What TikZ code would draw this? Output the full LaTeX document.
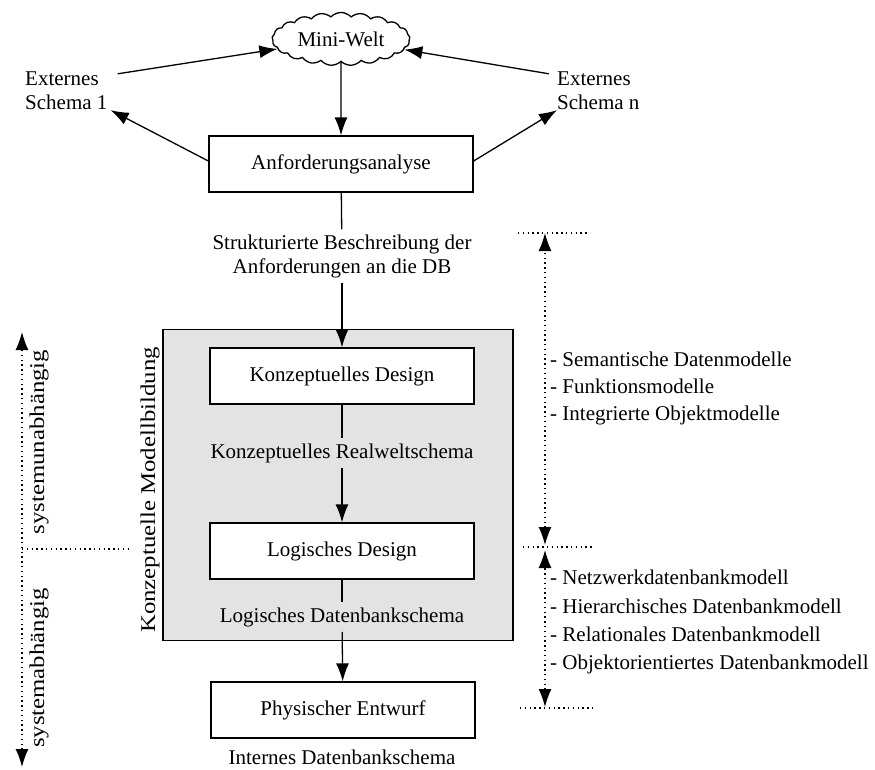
\documentclass[tikz,border=0pt]{standalone}
\usepackage{fontspec}
\setmainfont{Liberation Serif}
\usetikzlibrary{arrows.meta,shapes.symbols}

\tikzset{
  txt/.style={font=\fontsize{21}{24}\selectfont, inner sep=0pt},
  lbl/.style={txt, inner sep=5pt, align=center},
  stepbox/.style={draw, line width=1.3pt, fill=white, minimum width=264pt,
                  minimum height=56pt, font=\fontsize{21}{24}\selectfont},
  conn/.style={line width=1.3pt},
  tip/.tip={Latex[length=18pt,width=13pt]},
  arr/.style={conn, -tip},
  dots/.style={line width=1.4pt, dash pattern=on 1.4pt off 3.4pt},
  dotarr/.style={dots, tip-tip},
  vlbl/.style={txt, rotate=90}
}
\newcommand{\wide}[1]{\scalebox{1.18}[1]{#1}}

\begin{document}
\begin{tikzpicture}[x=1pt, y=-1pt]
\useasboundingbox (0,0) rectangle (875,769);

% grey frame of the conceptual modelling phase
\node[draw, line width=1.3pt, fill=black!11, minimum width=350pt, minimum height=311pt]
  (grp) at (338,485) {};

% top: mini world and external schemas
\node[cloud, draw, line width=1.3pt, fill=white, cloud puffs=21, cloud puff arc=95,
      aspect=2.7, minimum width=138pt, minimum height=52pt, inner sep=0pt, txt]
  (welt) at (341,39) {Mini-Welt};
\node[txt, align=left, anchor=west] (ext1) at (25,91) {Externes\\Schema 1};
\node[txt, align=left, anchor=west] (extn) at (557,91) {Externes\\Schema n};

% design steps
\node[stepbox] (anf) at (341,164) {Anforderungsanalyse};
\node[lbl] (req) at (342,256) {Strukturierte Beschreibung der\\Anforderungen an die DB};
\node[stepbox] (kd) at (342,376) {Konzeptuelles Design};
\node[lbl] (rws) at (342,453) {Konzeptuelles Realweltschema};
\node[stepbox] (ld) at (342,551) {Logisches Design};
\node[lbl] (lds) at (342,617) {Logisches Datenbankschema};
\node[stepbox] (pe) at (343,710) {Physischer Entwurf};
\node[lbl] (ids) at (342,757) {Internes Datenbankschema};

% connectors
\draw[arr] ([xshift=10pt,yshift=-2pt]ext1.north east) -- (welt);
\draw[arr] ([xshift=-8pt,yshift=-2pt]extn.north west) -- (welt);
\draw[arr] (welt) -- (anf);
\draw[arr] ([yshift=3pt]anf.west) -- ([xshift=3pt]ext1.south east);
\draw[arr] ([yshift=3pt]anf.east) -- ([xshift=0pt]extn.south west);
\draw[conn] (anf) -- (req);
\draw[arr] (req) -- (kd);
\draw[conn] (kd) -- (rws);
\draw[arr] (rws) -- (ld);
\draw[conn] (ld) -- (lds);
\draw[arr] (lds) -- (pe);

% rotated side labels
\node[vlbl] (km) at (150,490) {\wide{Konzeptuelle Modellbildung}};
\node[vlbl] (sua) at (39,442) {\wide{systemunabhängig}};
\node[vlbl] (sa) at (39,668) {\wide{systemabhängig}};

% left axis: system independent / dependent
\coordinate (lt) at (22,332);
\coordinate (lb) at (22,767);
\coordinate (lm1) at (22,549);
\coordinate (lm2) at (130,549);
\draw[dotarr] (lb) -- (lt);
\draw[dots] (lm1) -- (lm2);

% right axis: model families
\coordinate (r1t) at (545,233);
\coordinate (r1b) at (545,545);
\coordinate (r2t) at (545,550);
\coordinate (r2b) at (545,707);
\coordinate (h1a) at (518,233);
\coordinate (h1b) at (590,233);
\coordinate (h2a) at (523,547);
\coordinate (h2b) at (592,547);
\coordinate (h3a) at (520,708);
\coordinate (h3b) at (595,708);
\draw[dotarr] (r1b) -- (r1t);
\draw[dotarr] (r2b) -- (r2t);
\draw[dots] (h1a) -- (h1b);
\draw[dots] (h2a) -- (h2b);
\draw[dots] (h3a) -- (h3b);

% model lists
\node[txt, anchor=base west] (m1) at (550,366) {- Semantische Datenmodelle};
\node[txt, anchor=base west] (m2) at (550,393) {- Funktionsmodelle};
\node[txt, anchor=base west] (m3) at (550,420) {- Integrierte Objektmodelle};
\node[txt, anchor=base west] (m4) at (550,584) {- Netzwerkdatenbankmodell};
\node[txt, anchor=base west] (m5) at (550,613) {- Hierarchisches Datenbankmodell};
\node[txt, anchor=base west] (m6) at (550,641) {- Relationales Datenbankmodell};
\node[txt, anchor=base west] (m7) at (550,669) {- Objektorientiertes Datenbankmodell};
\end{tikzpicture}
\end{document}
